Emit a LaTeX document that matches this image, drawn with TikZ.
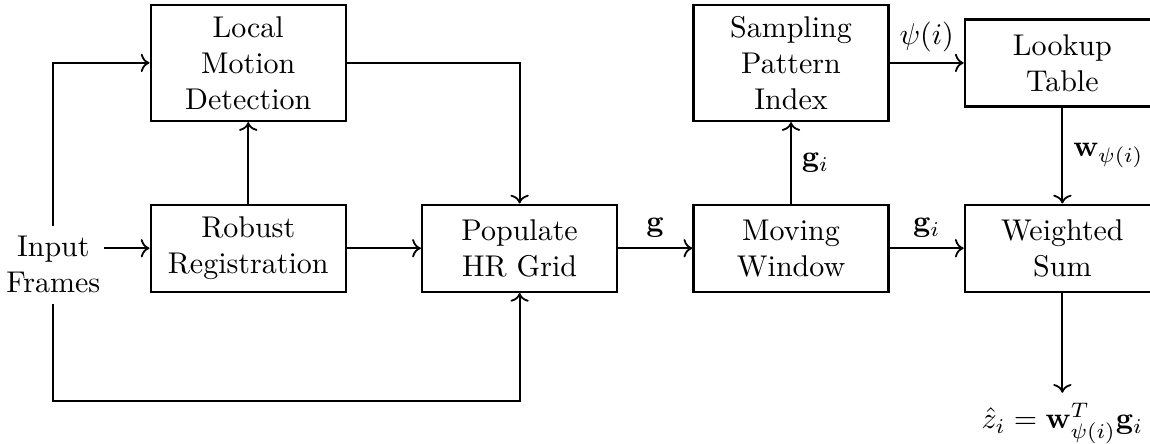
\documentclass[tikz,border=0pt]{standalone}
\usepackage{amsmath}
\usepackage{amssymb}
\usetikzlibrary{arrows.meta, positioning}

\begin{document}
\begin{tikzpicture}[
    node distance=0.867cm,
    block/.style={rectangle, draw, thick, align=center, minimum width=2.284cm, minimum height=1.019cm},
    tall/.style={minimum height=1.359cm},
    arrow/.style={semithick, ->},
    plain/.style={align=center, inner xsep=1pt}
]
    \useasboundingbox (0,0) rectangle (13.472,5.19);
    \node[block] (reg) at (2.908,2.282) {Robust\\Registration};
    \node[block, tall, above=0.954cm of reg] (lmd) {Local\\Motion\\Detection};
    \node[block, right=of reg] (grid) {Populate\\HR Grid};
    \node[block, right=of grid] (win) {Moving\\Window};
    \node[block, tall, above=0.954cm of win] (spi) {Sampling\\Pattern\\Index};
    \node[block, right=of spi] (lut) {Lookup\\Table};
    \node[block, right=of win] (wsum) {Weighted\\Sum};
    \node[plain, left=0.535cm of reg, yshift=-0.195cm] (input) {Input\\Frames};
    \node[below=1.17cm of wsum] (out) {$\hat{z}_i = \mathbf{w}_{\psi(i)}^T\mathbf{g}_i$};
    \coordinate[below=1.27cm of grid.south] (loop);

    \draw[arrow] (input.east |- reg.west) -- (reg.west);
    \draw[arrow] (input.north) |- (lmd.west);
    \draw[arrow] (input.south) |- (loop) -- (grid.south);
    \draw[arrow] (reg) -- (lmd);
    \draw[arrow] (reg) -- (grid);
    \draw[arrow] (lmd.east) -| (grid.north);
    \draw[arrow] (grid) -- node[above] {$\mathbf{g}$} (win);
    \draw[arrow] (win) -- node[right] {$\mathbf{g}_i$} (spi);
    \draw[arrow] (win) -- node[above] {$\mathbf{g}_i$} (wsum);
    \draw[arrow] (spi) -- node[above] {$\psi(i)$} (lut);
    \draw[arrow] (lut) -- node[right] {$\mathbf{w}_{\psi(i)}$} (wsum);
    \draw[arrow] (wsum) -- (out);
\end{tikzpicture}
\end{document}
